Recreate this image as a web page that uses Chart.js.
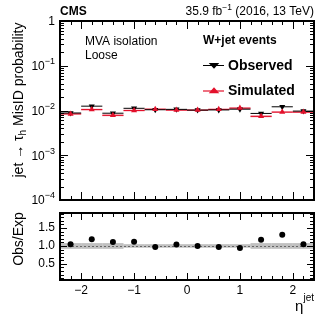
<!DOCTYPE html>
<html><head><meta charset="utf-8">
<script src="https://cdn.jsdelivr.net/npm/chart.js@4.4.0/dist/chart.umd.min.js"></script>
<style>
html,body{margin:0;padding:0;background:#fff;}
#wrap{position:relative;width:332px;height:319px;}
canvas{position:absolute;left:0;top:0;}
</style></head><body>
<div id="wrap"><canvas id="top" width="332" height="319"></canvas><canvas id="bot" width="332" height="319"></canvas></div>
<script>
// ---- data ----
const etaCenters = [-2.2,-1.8,-1.4,-1.0,-0.6,-0.2,0.2,0.6,1.0,1.4,1.8,2.2];
const etaBinHalfWidth = [0.2,0.2,0.2,0.2,0.2,0.2,0.2,0.2,0.2,0.2,0.2,0.2];
const observed    = [0.0088,0.0125,0.0087,0.0112,0.0104,0.0106,0.0102,0.0103,0.0107,0.0086,0.0121,0.0097];
const observedErr = [0.0004,0.0005,0.0004,0.0004,0.0003,0.0003,0.0003,0.0003,0.0004,0.0004,0.0005,0.0004];
const simulated    = [0.0084,0.0105,0.0078,0.0100,0.0107,0.0102,0.0102,0.0106,0.0113,0.0074,0.0092,0.0092];
const simulatedErr = [0.0004,0.0005,0.0004,0.0004,0.0003,0.0003,0.0003,0.0003,0.0004,0.0004,0.0004,0.0004];
const ratio        = [1.05,1.19,1.11,1.12,0.97,1.04,1.00,0.97,0.94,1.17,1.31,1.05];
const ratioBandErr = [0.08,0.08,0.08,0.05,0.05,0.05,0.05,0.05,0.05,0.08,0.08,0.08];
const xTicks = [-2,-1,0,1,2];
const xTickLabels = ['\u22122','\u22121','0','1','2'];
const topYTicks = [1,1e-1,1e-2,1e-3,1e-4];
const topYTickBase = ['1','10','10','10','10'];
const topYTickExp = ['','\u22121','\u22122','\u22123','\u22124'];
const ratioYTicks = [0.5,1.0,1.5];
const ratioYTickLabels = ['0.5','1.0','1.5'];

const FF = '"Liberation Sans", Arial, Helvetica, sans-serif';
const RED = '#e3102b';

function tri(ctx, x, y, r, down, color){
  ctx.save(); ctx.fillStyle = color; ctx.beginPath();
  const h = r*1.5, w = r*1.732;
  if(down){ ctx.moveTo(x-w/1.15, y-h/2); ctx.lineTo(x+w/1.15, y-h/2); ctx.lineTo(x, y+h/1.6); }
  else { ctx.moveTo(x-w/1.15, y+h/2); ctx.lineTo(x+w/1.15, y+h/2); ctx.lineTo(x, y-h/1.6); }
  ctx.closePath(); ctx.fill(); ctx.restore();
}

function frameTicks(ctx, ca, xs, ys, yMajor, yMinor, xMajor, xMinor, lMaj, lMin){
  ctx.save();
  ctx.strokeStyle = '#000'; ctx.lineWidth = 1;
  ctx.beginPath();
  const seg = (x1,y1,x2,y2)=>{ctx.moveTo(x1,y1);ctx.lineTo(x2,y2);};
  yMajor.forEach(v=>{const y=Math.round(ys.getPixelForValue(v))+0.5; seg(ca.left,y,ca.left+lMaj,y); seg(ca.right,y,ca.right-lMaj,y);});
  yMinor.forEach(v=>{const y=Math.round(ys.getPixelForValue(v))+0.5; seg(ca.left,y,ca.left+lMin,y); seg(ca.right,y,ca.right-lMin,y);});
  xMajor.forEach(v=>{const x=Math.round(xs.getPixelForValue(v))+0.5; seg(x,ca.bottom,x,ca.bottom-lMaj); seg(x,ca.top,x,ca.top+lMaj);});
  xMinor.forEach(v=>{const x=Math.round(xs.getPixelForValue(v))+0.5; seg(x,ca.bottom,x,ca.bottom-lMin); seg(x,ca.top,x,ca.top+lMin);});
  ctx.stroke();
  ctx.lineWidth = 2;
  ctx.strokeRect(ca.left, ca.top, ca.right-ca.left, ca.bottom-ca.top);
  ctx.restore();
}

const xMinorVals = [];
for(let k=-12;k<=12;k++){ const v=k*0.2; if(Math.abs(v - Math.round(v))>1e-6) xMinorVals.push(v); }

const topPlugin = {
  id:'topDeco',
  beforeDatasetsDraw(chart){
    const ctx=chart.ctx, xs=chart.scales.x, ys=chart.scales.y;
    ctx.save();
    etaCenters.forEach((c,i)=>{
      const x1=xs.getPixelForValue(c-etaBinHalfWidth[i]), x2=xs.getPixelForValue(c+etaBinHalfWidth[i]);
      const ya=ys.getPixelForValue(simulated[i]+simulatedErr[i]), yb=ys.getPixelForValue(simulated[i]-simulatedErr[i]);
      ctx.fillStyle='rgba(240,120,140,0.45)';
      ctx.fillRect(x1, ya, x2-x1, yb-ya);
      ctx.strokeStyle=RED; ctx.lineWidth=1.2;
      const ys0=ys.getPixelForValue(simulated[i]);
      ctx.beginPath(); ctx.moveTo(x1,ys0); ctx.lineTo(x2,ys0); ctx.stroke();
      const yo=ys.getPixelForValue(observed[i]);
      ctx.strokeStyle='#000'; ctx.lineWidth=1;
      ctx.beginPath(); ctx.moveTo(x1,yo); ctx.lineTo(x2,yo);
      const xc=xs.getPixelForValue(c);
      ctx.moveTo(xc, ys.getPixelForValue(observed[i]+observedErr[i]));
      ctx.lineTo(xc, ys.getPixelForValue(observed[i]-observedErr[i]));
      ctx.stroke();
    });
    ctx.restore();
  },
  afterDraw(chart){
    const ctx=chart.ctx, ca=chart.chartArea, xs=chart.scales.x, ys=chart.scales.y;
    const yMin=[];
    for(let d=-4; d<0; d++) for(let m=2;m<=9;m++) yMin.push(m*Math.pow(10,d));
    frameTicks(ctx, ca, xs, ys, topYTicks, yMin, xTicks, xMinorVals, 8, 4);
    ctx.save();
    ctx.fillStyle='#000';
    topYTicks.forEach((v,i)=>{
      const y=ys.getPixelForValue(v);
      ctx.textBaseline='middle';
      const ef='9px '+FF;
      ctx.font=ef; const ew=ctx.measureText(topYTickExp[i]).width;
      ctx.font='12px '+FF; const bw=ctx.measureText(topYTickBase[i]).width;
      const right=ca.left-5;
      ctx.textAlign='left';
      ctx.fillText(topYTickBase[i], right-ew-bw, y+1);
      ctx.font=ef; ctx.fillText(topYTickExp[i], right-ew, y-4);
    });
    ctx.textBaseline='middle';
    ctx.font='bold 12px '+FF; ctx.textAlign='left';
    ctx.fillText('CMS', ca.left, 12);
    ctx.font='12px '+FF;
    const p1='35.9 fb', p3=' (2016, 13 TeV)';
    const w3=ctx.measureText(p3).width, w1=ctx.measureText(p1).width;
    ctx.font='8.5px '+FF; const w2=ctx.measureText('\u22121').width;
    const xr=ca.right;
    ctx.font='12px '+FF; ctx.fillText(p3, xr-w3, 12);
    ctx.font='8.5px '+FF; ctx.fillText('\u22121', xr-w3-w2, 8);
    ctx.font='12px '+FF; ctx.fillText(p1, xr-w3-w2-w1, 12);
    ctx.font='12px '+FF;
    ctx.fillText('MVA isolation', 85, 42);
    ctx.fillText('Loose', 85, 56);
    ctx.font='bold 12px '+FF;
    ctx.fillText('W+jet events', 203, 41);
    ctx.strokeStyle='#000'; ctx.lineWidth=1;
    ctx.beginPath(); ctx.moveTo(203,65.5); ctx.lineTo(224,65.5); ctx.stroke();
    tri(ctx,214,65.5,3.5,true,'#000');
    ctx.strokeStyle=RED; ctx.lineWidth=1.2;
    ctx.beginPath(); ctx.moveTo(203,91); ctx.lineTo(224,91); ctx.stroke();
    tri(ctx,214,90.5,3.5,false,RED);
    ctx.fillStyle='#000'; ctx.font='bold 14px '+FF;
    ctx.fillText('Observed', 228, 66);
    ctx.fillText('Simulated', 228, 91);
    ctx.save();
    ctx.translate(19, 100); ctx.rotate(-Math.PI/2);
    ctx.font='14px '+FF;
    const a='jet \u2192 \u03c4', b='h', c=' MisID probability';
    const wa=ctx.measureText(a).width, wc=ctx.measureText(c).width;
    ctx.font='10px '+FF; const wb=ctx.measureText(b).width;
    const tot=wa+wb+wc; const x0=-tot/2;
    ctx.textAlign='left'; ctx.textBaseline='middle';
    ctx.font='14px '+FF; ctx.fillText(a, x0, 0);
    ctx.font='10px '+FF; ctx.fillText(b, x0+wa, 4);
    ctx.font='14px '+FF; ctx.fillText(c, x0+wa+wb, 0);
    ctx.restore();
    ctx.restore();
  }
};

new Chart(document.getElementById('top'), {
  type:'scatter',
  data:{datasets:[
    {label:'Simulated', data: etaCenters.map((x,i)=>({x:x,y:simulated[i]})), pointStyle:'triangle', pointRadius:3.5, pointBackgroundColor:RED, pointBorderColor:RED, pointBorderWidth:0},
    {label:'Observed', data: etaCenters.map((x,i)=>({x:x,y:observed[i]})), pointStyle:'triangle', pointRotation:180, pointRadius:3.5, pointBackgroundColor:'#000', pointBorderColor:'#000', pointBorderWidth:0}
  ]},
  options:{
    responsive:false, animation:false, devicePixelRatio:1,
    layout:{padding:{left:60, top:21, right:18, bottom:119}},
    plugins:{legend:{display:false}, tooltip:{enabled:false}},
    scales:{
      x:{type:'linear', min:-2.4, max:2.4, display:false},
      y:{type:'logarithmic', min:1e-4, max:1, display:false}
    }
  },
  plugins:[topPlugin]
});

const botPlugin = {
  id:'botDeco',
  beforeDatasetsDraw(chart){
    const ctx=chart.ctx, xs=chart.scales.x, ys=chart.scales.y, ca=chart.chartArea;
    ctx.save();
    etaCenters.forEach((c,i)=>{
      const x1=xs.getPixelForValue(c-etaBinHalfWidth[i]), x2=xs.getPixelForValue(c+etaBinHalfWidth[i]);
      const ya=ys.getPixelForValue(1+ratioBandErr[i]), yb=ys.getPixelForValue(1-ratioBandErr[i]);
      ctx.fillStyle='rgba(150,150,150,0.6)';
      ctx.fillRect(x1, ya, x2-x1, yb-ya);
    });
    const y1=Math.round(ys.getPixelForValue(1))+0.5;
    ctx.strokeStyle='#666'; ctx.lineWidth=1; ctx.setLineDash([2,2]);
    ctx.beginPath(); ctx.moveTo(ca.left,y1); ctx.lineTo(ca.right,y1); ctx.stroke();
    ctx.restore();
  },
  afterDraw(chart){
    const ctx=chart.ctx, ca=chart.chartArea, xs=chart.scales.x, ys=chart.scales.y;
    const yMin=[]; for(let k=1;k<=19;k++){const v=k*0.1; if(Math.abs(v*2-Math.round(v*2))>1e-6) yMin.push(v);}
    frameTicks(ctx, ca, xs, ys, ratioYTicks, yMin, xTicks, xMinorVals, 7, 4);
    ctx.save();
    ctx.fillStyle='#000';
    ctx.translate(19, 239); ctx.rotate(-Math.PI/2);
    ctx.font='14px '+FF; ctx.textAlign='center'; ctx.textBaseline='middle';
    ctx.fillText('Obs/Exp', 0, 0);
    ctx.restore();
    ctx.save();
    ctx.fillStyle='#000'; ctx.textBaseline='middle'; ctx.textAlign='left';
    ctx.font='10px '+FF; const wj=ctx.measureText('jet').width;
    ctx.font='15px '+FF; const we=ctx.measureText('\u03b7').width;
    const xr=ca.right;
    ctx.fillText('\u03b7', xr-wj-we, 307);
    ctx.font='10px '+FF; ctx.fillText('jet', xr-wj, 298);
    ctx.restore();
  }
};

new Chart(document.getElementById('bot'), {
  type:'scatter',
  data:{datasets:[
    {label:'Obs/Exp', data: etaCenters.map((x,i)=>({x:x,y:ratio[i]})), pointStyle:'circle', pointRadius:3, pointBackgroundColor:'#000', pointBorderColor:'#000', pointBorderWidth:0}
  ]},
  options:{
    responsive:false, animation:false, devicePixelRatio:1,
    layout:{padding:{left:0, top:213, right:18, bottom:0}},
    plugins:{legend:{display:false}, tooltip:{enabled:false}},
    scales:{
      x:{type:'linear', min:-2.4, max:2.4,
         afterBuildTicks:s=>{s.ticks=xTicks.map(v=>({value:v}));},
         afterFit:s=>{s.height=39;},
         grid:{display:false, drawTicks:false}, border:{display:false},
         ticks:{color:'#000', font:{size:12, family:FF}, padding:3, maxRotation:0, autoSkip:false,
                callback:(v)=>xTickLabels[xTicks.indexOf(v)] ?? ''}},
      y:{type:'linear', min:0.05, max:1.92,
         afterBuildTicks:s=>{s.ticks=ratioYTicks.map(v=>({value:v}));},
         afterFit:s=>{s.width=60;},
         grid:{display:false, drawTicks:false}, border:{display:false},
         ticks:{color:'#000', font:{size:12, family:FF}, padding:5,
                callback:(v)=>ratioYTickLabels[ratioYTicks.indexOf(v)] ?? ''}}
    }
  },
  plugins:[botPlugin]
});
</script>
</body></html>
